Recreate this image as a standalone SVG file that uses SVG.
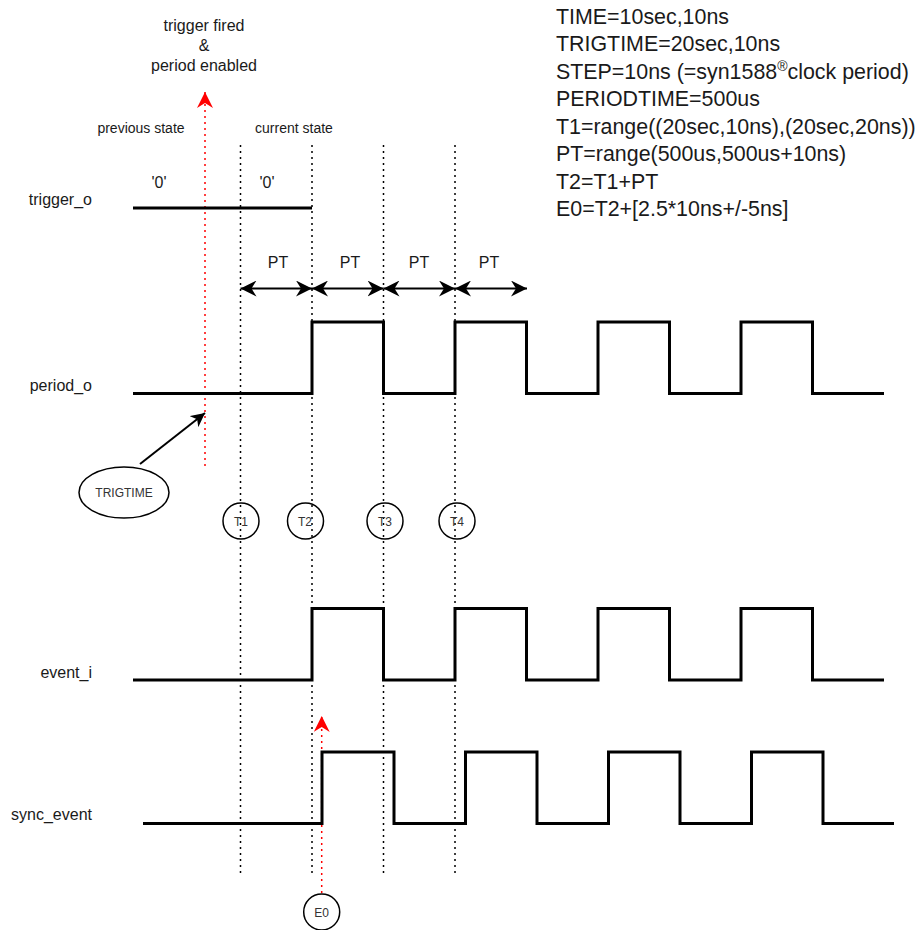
<svg xmlns="http://www.w3.org/2000/svg" width="921" height="930" viewBox="0 0 921 930">
<style>
text{font-family:"Liberation Sans",Arial,sans-serif;fill:#1a1a1a}
.lbl{font-size:16px;text-anchor:end}
.sm{font-size:14px;text-anchor:middle}
.md{font-size:16px;text-anchor:middle}
.info{font-size:21.4px}
.ct{font-size:12px;text-anchor:middle;fill:#333}
.wave{fill:none;stroke:#000;stroke-width:3;stroke-linejoin:miter}
.grid{fill:none;stroke:#000;stroke-width:1.5;stroke-dasharray:2 4}
.red{fill:none;stroke:#ff0000;stroke-width:1.5;stroke-dasharray:2 4}
.dim{fill:none;stroke:#000;stroke-width:2}
.shape{fill:none;stroke:#000;stroke-width:1.5}
</style>
<defs>
<marker id="ah" viewBox="0 0 16 16" refX="16" refY="8" markerWidth="16" markerHeight="16" markerUnits="userSpaceOnUse" orient="auto-start-reverse">
<path d="M16,8 L0,0 L5,8 L0,16 Z" fill="#000"/>
</marker>
<marker id="ahs" viewBox="0 0 14 14" refX="14" refY="7" markerWidth="14" markerHeight="14" markerUnits="userSpaceOnUse" orient="auto">
<path d="M14,7 L0,0 L4,7 L0,14 Z" fill="#000"/>
</marker>
<marker id="ahr" viewBox="0 0 16 16" refX="16" refY="8" markerWidth="16" markerHeight="16" markerUnits="userSpaceOnUse" orient="auto">
<path d="M16,8 L0,0 L5,8 L0,16 Z" fill="#ff0000"/>
</marker>
</defs>

<g id="info">
<text class="info" x="556" y="23.5">TIME=10sec,10ns</text>
<text class="info" x="556" y="51">TRIGTIME=20sec,10ns</text>
<text class="info" x="556" y="78.5">STEP=10ns (=syn1588<tspan font-size="14" dy="-8">®</tspan><tspan dy="8">clock period)</tspan></text>
<text class="info" x="556" y="106">PERIODTIME=500us</text>
<text class="info" x="556" y="133.5">T1=range((20sec,10ns),(20sec,20ns))</text>
<text class="info" x="556" y="161">PT=range(500us,500us+10ns)</text>
<text class="info" x="556" y="188.5">T2=T1+PT</text>
<text class="info" x="556" y="216">E0=T2+[2.5*10ns+/-5ns]</text>
</g>

<g id="annotations">
<text class="md" x="204" y="31">trigger fired</text>
<text class="md" x="204" y="51">&amp;</text>
<text class="md" x="204" y="71">period enabled</text>
<text class="sm" x="141" y="133">previous state</text>
<text class="sm" x="294" y="133">current state</text>
<text class="md" x="159" y="188">'0'</text>
<text class="md" x="267" y="188">'0'</text>
<text class="md" x="278" y="268">PT</text>
<text class="md" x="350" y="268">PT</text>
<text class="md" x="419" y="268">PT</text>
<text class="md" x="489" y="268">PT</text>
</g>

<g id="signal-labels">
<text class="lbl" x="92" y="205">trigger_o</text>
<text class="lbl" x="92" y="391">period_o</text>
<text class="lbl" x="92" y="678">event_i</text>
<text class="lbl" x="92" y="820">sync_event</text>
</g>

<g id="connectors">
<line class="grid" x1="240.5" y1="145" x2="240.5" y2="877"/>
<line class="grid" x1="312" y1="145" x2="312" y2="877"/>
<line class="grid" x1="383.5" y1="145" x2="383.5" y2="877"/>
<line class="grid" x1="455" y1="145" x2="455" y2="877"/>
<line class="red" x1="205" y1="466" x2="205" y2="92" marker-end="url(#ahr)"/>
<line class="red" x1="321.7" y1="893" x2="321.7" y2="716" marker-end="url(#ahr)"/>
<line class="dim" x1="240.5" y1="288.5" x2="312" y2="288.5" marker-start="url(#ah)" marker-end="url(#ah)"/>
<line class="dim" x1="312" y1="288.5" x2="383.5" y2="288.5" marker-start="url(#ah)" marker-end="url(#ah)"/>
<line class="dim" x1="383.5" y1="288.5" x2="455" y2="288.5" marker-start="url(#ah)" marker-end="url(#ah)"/>
<line class="dim" x1="455" y1="288.5" x2="527" y2="288.5" marker-start="url(#ah)" marker-end="url(#ah)"/>
<line class="dim" x1="140" y1="464" x2="205" y2="413" marker-end="url(#ahs)"/>
</g>

<g id="trigger_o">
<path class="wave" d="M133,208 H312"/>
</g>
<g id="period_o">
<path class="wave" d="M133,393.5 H312 V322 H383.5 V393.5 H455 V322 H526.5 V393.5 H598 V322 H669.5 V393.5 H741 V322 H812.5 V393.5 H884"/>
</g>
<g id="event_i">
<path class="wave" d="M133,680 H312 V608.5 H383.5 V680 H455 V608.5 H526.5 V680 H598 V608.5 H669.5 V680 H741 V608.5 H812.5 V680 H884"/>
</g>
<g id="sync_event">
<path class="wave" d="M143,823.5 H322 V752 H394 V823.5 H465.5 V752 H537 V823.5 H608.5 V752 H680 V823.5 H751.5 V752 H823 V823.5 H894"/>
</g>

<g id="trigtime">
<ellipse class="shape" cx="124" cy="492.5" rx="45" ry="25.5"/>
<text class="ct" x="124" y="497">TRIGTIME</text>
</g>
<g id="T1">
<circle class="shape" cx="241" cy="521" r="18"/>
<text class="ct" x="241" y="525.5">T1</text>
</g>
<g id="T2">
<circle class="shape" cx="305.5" cy="521" r="18"/>
<text class="ct" x="305" y="525.5">T2</text>
</g>
<g id="T3">
<circle class="shape" cx="385" cy="521" r="18"/>
<text class="ct" x="385" y="525.5">T3</text>
</g>
<g id="T4">
<circle class="shape" cx="457" cy="521" r="18"/>
<text class="ct" x="457" y="525.5">T4</text>
</g>
<g id="E0">
<circle class="shape" cx="321.7" cy="912" r="18"/>
<text class="ct" x="321.7" y="916.5">E0</text>
</g>
</svg>
